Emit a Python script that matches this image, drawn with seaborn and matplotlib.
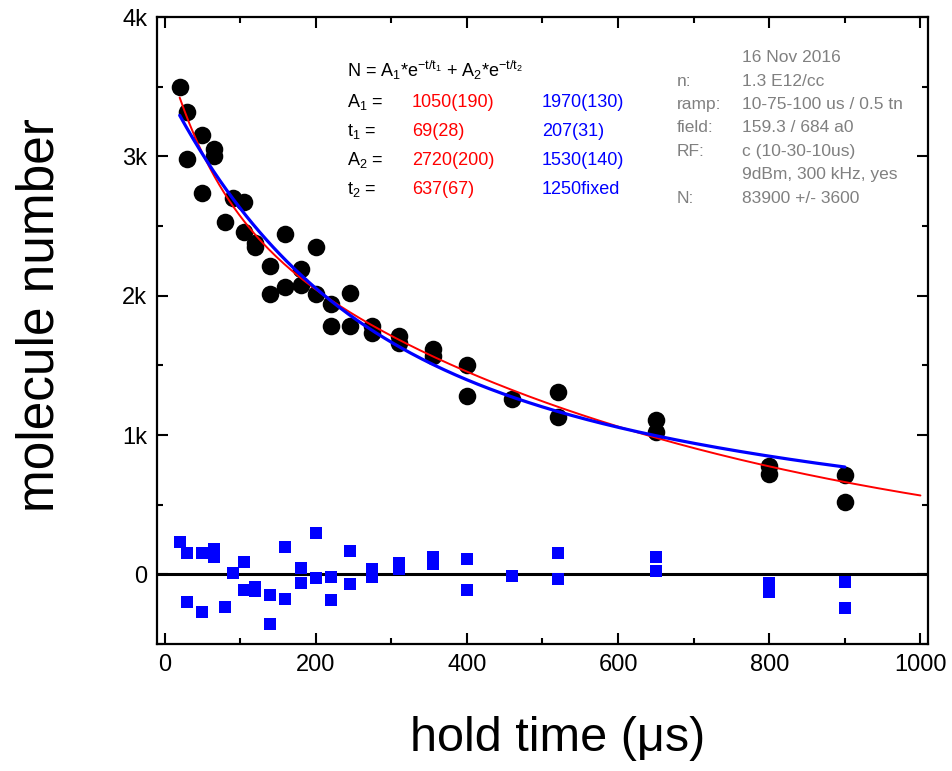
import numpy as np
import pandas as pd
import matplotlib
matplotlib.use("Agg")
import matplotlib.pyplot as plt
from matplotlib.ticker import MultipleLocator, FuncFormatter
import seaborn as sns

# measured molecule numbers vs hold time (us)
hold_time = [20, 30, 30, 50, 50, 65, 65, 80, 90, 105, 105, 120, 120, 140, 140,
             160, 160, 180, 180, 200, 200, 220, 220, 245, 245, 275, 275, 310, 310,
             355, 355, 400, 400, 460, 520, 520, 650, 650, 800, 800, 900, 900]
molecules = [3500, 3320, 2980, 3150, 2740, 3050, 3000, 2530, 2700, 2670, 2460, 2380, 2350,
             2210, 2010, 2440, 2060, 2190, 2080, 2350, 2010, 1940, 1780, 2020, 1780,
             1780, 1730, 1710, 1660, 1620, 1570, 1500, 1280, 1260, 1310, 1130, 1110,
             1020, 780, 720, 710, 520]
residuals = [230, 151, -201, 151, -273, 180, 122, -237, 7, 86, -115, -94, -122, -151, -353,
             194, -180, 43, -65, 295, -29, -22, -187, 165, -72, 36, -22, 79, 36, 122, 72,
             108, -115, -14, 151, -36, 122, 22, -65, -130, -58, -245]

# double exponential fit parameters as printed on the chart (A1, t1, A2, t2)
red_fit = (1050, 69, 2720, 637)
blue_fit = (1970, 207, 1530, 1250)
red_range = (20, 1000)
blue_range = (20, 900)

eq_labels = ["A$_1$ =", "t$_1$ =", "A$_2$ =", "t$_2$ ="]
red_values = ["1050(190)", "69(28)", "2720(200)", "637(67)"]
blue_values = ["1970(130)", "207(31)", "1530(140)", "1250fixed"]

info_keys = ["", "n:", "ramp:", "field:", "RF:", "", "N:"]
info_values = ["16 Nov 2016", "1.3 E12/cc", "10-75-100 us / 0.5 tn", "159.3 / 684 a0",
               "c (10-30-10us)", "9dBm, 300 kHz, yes", "83900 +/- 3600"]


def double_exp(t, p):
    a1, t1, a2, t2 = p
    return a1 * np.exp(-t / t1) + a2 * np.exp(-t / t2)


def main():
    sns.set_theme(style="ticks")
    plt.rcParams["font.family"] = ["Liberation Sans", "DejaVu Sans"]
    plt.rcParams["mathtext.default"] = "regular"

    W, H = 953, 771
    fig = plt.figure(figsize=(W / 100, H / 100), dpi=100)
    ax = fig.add_axes([157 / W, 1 - 644 / H, (928 - 157) / W, (644 - 17) / H])

    ax.axhline(0, color="black", lw=2.2, zorder=1)

    df = pd.DataFrame({"t": hold_time, "N": molecules, "res": residuals})
    sns.scatterplot(data=df, x="t", y="res", marker="s", s=85, color="#0000ff",
                    linewidth=0, ax=ax, zorder=2)
    sns.scatterplot(data=df, x="t", y="N", marker="o", s=160, color="black",
                    linewidth=0, ax=ax, zorder=3)

    t_red = np.linspace(*red_range, 300)
    t_blue = np.linspace(*blue_range, 300)
    sns.lineplot(x=t_red, y=double_exp(t_red, red_fit), color="#ff0000", lw=1.4,
                 ax=ax, zorder=4)
    sns.lineplot(x=t_blue, y=double_exp(t_blue, blue_fit), color="#0000ff", lw=2.3,
                 ax=ax, zorder=5)

    ax.set_xlim(-10, 1010)
    ax.set_ylim(-500, 4000)
    ax.xaxis.set_major_locator(MultipleLocator(200))
    ax.xaxis.set_minor_locator(MultipleLocator(100))
    ax.yaxis.set_major_locator(MultipleLocator(1000))
    ax.yaxis.set_minor_locator(MultipleLocator(500))
    ax.yaxis.set_major_formatter(FuncFormatter(
        lambda v, _: "0" if v == 0 else f"{int(v / 1000)}k"))
    ax.tick_params(which="both", direction="in", top=True, right=True,
                   width=1.5, colors="black", labelsize=17)
    ax.tick_params(which="major", length=8, pad=7)
    ax.tick_params(which="minor", length=4)
    for s in ax.spines.values():
        s.set_linewidth(1.6)
        s.set_color("black")

    ax.set_xlabel("hold time (μs)", fontsize=35, color="black")
    ax.set_ylabel("molecule number", fontsize=37, color="black")
    ax.xaxis.set_label_coords(0.52, -0.115)
    ax.yaxis.set_label_coords(-0.12, 0.525)

    # fit results
    fig.text(347 / W, 1 - 77 / H,
             "N = A$_1$*e$^{-t/t_1}$ + A$_2$*e$^{-t/t_2}$",
             fontsize=13, va="baseline", color="black")
    for i, (lab, rv, bv) in enumerate(zip(eq_labels, red_values, blue_values)):
        yb = 1 - (107 + 29 * i) / H
        fig.text(347 / W, yb, lab, fontsize=13, va="baseline", color="black")
        fig.text(412 / W, yb, rv, fontsize=13, va="baseline", color="#ff0000")
        fig.text(542 / W, yb, bv, fontsize=13, va="baseline", color="#0000ff")

    # run info
    for i, (k, v) in enumerate(zip(info_keys, info_values)):
        yb = 1 - (62 + 23.5 * i) / H
        fig.text(677 / W, yb, k, fontsize=12.5, va="baseline", color="#808080")
        fig.text(742 / W, yb, v, fontsize=12.5, va="baseline", color="#808080")

    fig.savefig("out.png", dpi=100)
    plt.close(fig)


if __name__ == "__main__":
    main()
